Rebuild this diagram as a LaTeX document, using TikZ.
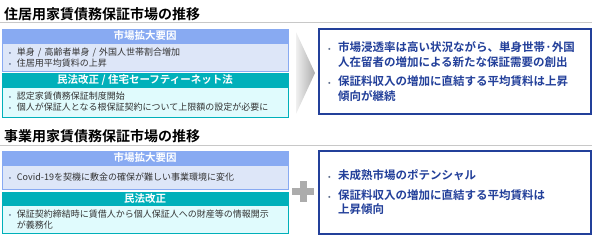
\documentclass[tikz,border=0pt]{standalone}
\usepackage{fontspec}
\usepackage{xcolor}
\setmainfont{Noto Sans CJK JP}[BoldFont={Noto Sans CJK JP Bold}]
\usetikzlibrary{positioning}

\definecolor{hdrblue}{HTML}{88AAF2}
\definecolor{bodyblue}{HTML}{DDE6F8}
\definecolor{hdrteal}{HTML}{00B0BA}
\definecolor{bodyteal}{HTML}{E0FBFD}
\definecolor{navy}{HTML}{23409A}
\definecolor{bulgray}{HTML}{5F6F8F}
\definecolor{rulegray}{HTML}{C8C8C8}
\definecolor{txtgray}{HTML}{333333}

\newcommand{\itm}[1][10pt]{\makebox[#1][l]{\textcolor{bulgray}{\fontsize{7pt}{7pt}\selectfont •}}}

\begin{document}
\begin{tikzpicture}[
    x=1pt, y=-1pt,
    title/.style={anchor=west, inner sep=0pt, font=\bfseries\fontsize{14pt}{16pt}\selectfont},
    hdr/.style={draw=#1, fill=#1, text=white, minimum width=286pt, minimum height=13pt, inner sep=0pt, font=\bfseries\fontsize{10.5pt}{12pt}\selectfont},
    body/.style={draw=#1, line width=0.8pt, text width=272pt, inner xsep=7pt, inner ysep=0pt, align=left, text=txtgray, font=\fontsize{9pt}{11pt}\selectfont},
    result/.style={draw=navy, line width=1.1pt, fill=white, text width=254pt, inner xsep=9pt, inner ysep=0pt, align=left, text=navy, font=\bfseries\fontsize{11.5pt}{14.5pt}\selectfont}
]
\useasboundingbox (0,0) rectangle (592,237);

% residential
\node[title] (title1) at (4,14) {住居用家賃債務保証市場の推移};
\draw[rulegray, line width=1pt] (0,23) -- (592,23);

\node[hdr=hdrblue] (hdr1) at (145,36) {市場拡大要因};
\node[body=hdrblue, fill=bodyblue, minimum height=28pt, below=0pt of hdr1] (body1)
  {\itm[8pt]単身 / 高齢者単身 / 外国人世帯割合増加\\ \itm[8pt]住居用平均賃料の上昇};
\node[hdr=hdrteal] (hdr2) at (145,80) {民法改正 / 住宅セーフティーネット法};
\node[body=hdrteal, fill=bodyteal, minimum height=30pt, below=0pt of hdr2] (body2)
  {\itm[8pt]認定家賃債務保証制度開始\\ \itm[8pt]個人が保証人となる根保証契約について上限額の設定が必要に};

\shade[left color=gray!12, right color=gray!65] (296,32) -- (315,73) -- (296,114) -- cycle;

\node[result, minimum height=85pt] (res1) at (455,71.5)
  {\itm 市場浸透率は高い状況ながら、単身世帯·外国\\ \hspace*{10pt}人在留者の増加による新たな保証需要の創出\\[5pt]
   \itm 保証料収入の増加に直結する平均賃料は上昇\\ \hspace*{10pt}傾向が継続};

% business
\node[title] (title2) at (4,136) {事業用家賃債務保証市場の推移};
\draw[rulegray, line width=1pt] (0,146) -- (592,146);

\node[hdr=hdrblue] (hdr3) at (145,158) {市場拡大要因};
\node[body=hdrblue, fill=bodyblue, minimum height=24pt, below=0pt of hdr3] (body3)
  {\itm[8pt]Covid-19を契機に敷金の確保が難しい事業環境に変化};
\node[hdr=hdrteal] (hdr4) at (145,198.5) {民法改正};
\node[body=hdrteal, fill=bodyteal, minimum height=28pt, below=0pt of hdr4] (body4)
  {\itm[8pt]保証契約締結時に賃借人から個人保証人への財産等の情報開示\\ \hspace*{8pt}が義務化};

\fill[gray!65] (292,188) rectangle (314,195);
\fill[gray!65] (299.5,181) rectangle (306.5,202);

\node[result, minimum height=83pt] (res2) at (455,192.5)
  {\itm 未成熟市場のポテンシャル\\[5pt]
   \itm 保証料収入の増加に直結する平均賃料は\\ \hspace*{10pt}上昇傾向};
\end{tikzpicture}
\end{document}
